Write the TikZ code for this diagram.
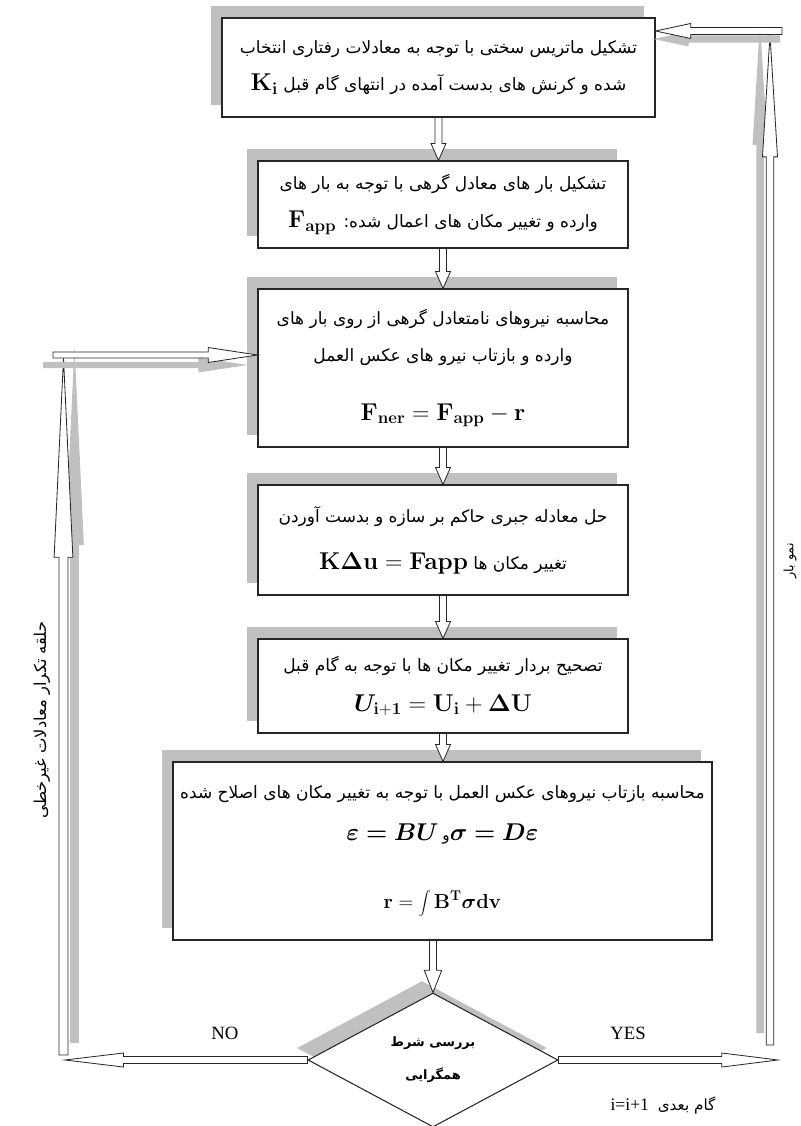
\documentclass[tikz,border=0pt]{standalone}
\usepackage[no-math]{fontspec}
\usepackage{bm}
\setmainfont{Liberation Serif}
\newfontfamily\fa[Script=Arabic]{DejaVu Sans}
\TeXXeTstate=1
\usetikzlibrary{calc,shapes.geometric,shadows}

\definecolor{shade}{HTML}{C0C0C0}

% hollow block arrow: [style]{from}{to}{head length}{half shaft}{half head}
\newcommand\blockarrow[6][blk]{%
  \coordinate (ba) at ($#3!#4!#2$);
  \draw[#1] ($#2!#5!90:#3$) -- ($(ba)!#5!90:#3$) -- ($(ba)!#6!90:#3$) -- #3
    -- ($(ba)!#6!-90:#3$) -- ($(ba)!#5!-90:#3$) -- ($#2!#5!-90:#3$) -- cycle;}

\tikzset{
  blk/.style={draw=black!85, fill=white, line width=0.7pt, line join=miter},
  shadearrow/.style={draw=none, fill=shade},
  stepbox/.style={draw=black!85, line width=0.9pt, fill=white, align=center,
    inner sep=0pt, font=\fa\fontsize{14.5}{32}\selectfont,
    drop shadow={shadow xshift=-0.33cm, shadow yshift=0.36cm, fill=shade, opacity=1}},
}

\begin{document}
\begin{tikzpicture}[x=0.03cm, y=-0.03cm]
\useasboundingbox (0,0) rectangle (800,1126);

% process boxes
\node[stepbox, minimum width=12.99cm, minimum height=2.97cm] (b1) at (438.5,67.5)
  {\beginR تشکیل ماتریس سختی با توجه به معادلات رفتاری انتخاب\endR\\
   \beginR شده و کرنش های بدست آمده در انتهای گام قبل \beginL{\fontsize{20}{24}\selectfont$\mathbf{K_i}$}\endL\endR};
\node[stepbox, minimum width=11.1cm, minimum height=2.61cm] (b2) at (443,204.5)
  {\beginR تشکیل بار های معادل گرهی با توجه به بار های\endR\\
   \beginR وارده و تغییر مکان های اعمال شده: \beginL{\fontsize{20}{24}\selectfont$\mathbf{F_{app}}$}\endL\endR};
\node[stepbox, minimum width=11.1cm, minimum height=4.74cm] (b3) at (443,368)
  {\beginR محاسبه نیروهای نامتعادل گرهی از روی بار های\endR\\
   \beginR وارده و بازتاب نیرو های عکس العمل\endR\\[18pt]
   {\fontsize{20}{24}\selectfont$\mathbf{F_{ner}} = \mathbf{F_{app}} - \mathbf{r}$}};
\node[stepbox, minimum width=11.1cm, minimum height=3.3cm] (b4) at (443,540)
  {\beginR حل معادله جبری حاکم بر سازه و بدست آوردن\endR\\[8pt]
   \beginR تغییر مکان ها \beginL{\fontsize{20}{24}\selectfont$\mathbf{K}\bm{\Delta}\mathbf{u = Fapp}$}\endL\endR};
\node[stepbox, minimum width=11.1cm, minimum height=2.82cm] (b5) at (443,686)
  {\beginR تصحیح بردار تغییر مکان ها با توجه به گام قبل\endR\\[2pt]
   {\fontsize{20}{24}\selectfont$\bm{U}_{\mathbf{i+1}} = \mathbf{U_i} + \bm{\Delta}\mathbf{U}$}};
\node[stepbox, minimum width=16.17cm, minimum height=5.34cm] (b6) at (442.5,851)
  {\beginR محاسبه بازتاب نیروهای عکس العمل با توجه به تغییر مکان های اصلاح شده\endR\\[4pt]
   {\fontsize{20}{24}\selectfont$\bm{\varepsilon = BU}$\,{\fa\fontsize{13}{14}\selectfont و}$\bm{\sigma = D\varepsilon}$}\\[26pt]
   {\fontsize{17}{20}\selectfont$\mathbf{r} = \displaystyle\int \mathbf{B^T}\bm{\sigma}\mathbf{dv}$}};

% convergence check
\node[diamond, draw=black!85, line width=0.9pt, fill=white, inner sep=0pt,
  minimum width=7.5cm, minimum height=4.02cm, align=center,
  font=\fa\bfseries\fontsize{11}{28}\selectfont,
  drop shadow={shadow xshift=-0.33cm, shadow yshift=0.36cm, fill=shade, opacity=1}]
  (dm) at (433,1060) {\beginR بررسی شرط\endR\\ \beginR همگرایی\endR};

% loop ends
\coordinate (lb) at (63.5,1055);
\coordinate (lt) at (63.5,358);
\coordinate (lh) at (53,355);
\coordinate (rb) at (770,1045);
\coordinate (rt) at (770,35);
\coordinate (rh) at (782,31);
\coordinate (nl) at (65,1060);
\coordinate (yr) at (778,1060);

% main chain
\foreach \a/\b in {b1/b2,b2/b3,b3/b4,b4/b5,b5/b6}
  {\blockarrow{(\a.south)}{(\a.south |- \b.north)}{14.5pt}{3pt}{6.4pt}}
\blockarrow{(dm.north |- b6.south)}{(dm.north)}{19pt}{3pt}{7.5pt}

% NO loop
\blockarrow[shadearrow, transform canvas={shift={(11,-12)}}]{(lb)}{(lt)}{170pt}{3.8pt}{8pt}
\blockarrow{(lb)}{(lt)}{170pt}{3.8pt}{8pt}
\blockarrow[shadearrow, transform canvas={shift={(-10,10)}}]{(lh)}{(b3.west |- lh)}{42pt}{2.6pt}{6.4pt}
\blockarrow{(lh)}{(b3.west |- lh)}{42pt}{2.6pt}{6.4pt}

% YES loop
\blockarrow[shadearrow, transform canvas={shift={(-10,-12)}}]{(rb)}{(rt)}{104pt}{3.2pt}{6.4pt}
\blockarrow{(rb)}{(rt)}{104pt}{3.2pt}{6.4pt}
\blockarrow[shadearrow, transform canvas={shift={(-2,8)}}]{(rh)}{(b1.east |- rh)}{30pt}{3pt}{6.4pt}
\blockarrow{(rh)}{(b1.east |- rh)}{30pt}{3pt}{6.4pt}

\blockarrow{(dm.west)}{(nl)}{50pt}{3pt}{6pt}
\blockarrow{(dm.east)}{(yr)}{48pt}{3pt}{6pt}

% labels
\node[font=\fontsize{16}{18}\selectfont] (no) at (225,1033) {NO};
\node[font=\fontsize{16}{18}\selectfont] (yes) at (628,1033) {YES};
\node[font=\fontsize{15}{16}\selectfont] (nxt) at (663,1105) {i=i+1\ \ {\fa\fontsize{13}{14}\selectfont\beginR گام بعدی\endR}};
\node[rotate=90, font=\fa\fontsize{14}{16}\selectfont] (loopl) at (42,720) {\beginR حلقه تکرار معادلات غیرخطی\endR};
\node[rotate=90, font=\fa\fontsize{11}{14}\selectfont] (loadr) at (790,561) {\beginR نمو بار\endR};
\end{tikzpicture}
\end{document}
